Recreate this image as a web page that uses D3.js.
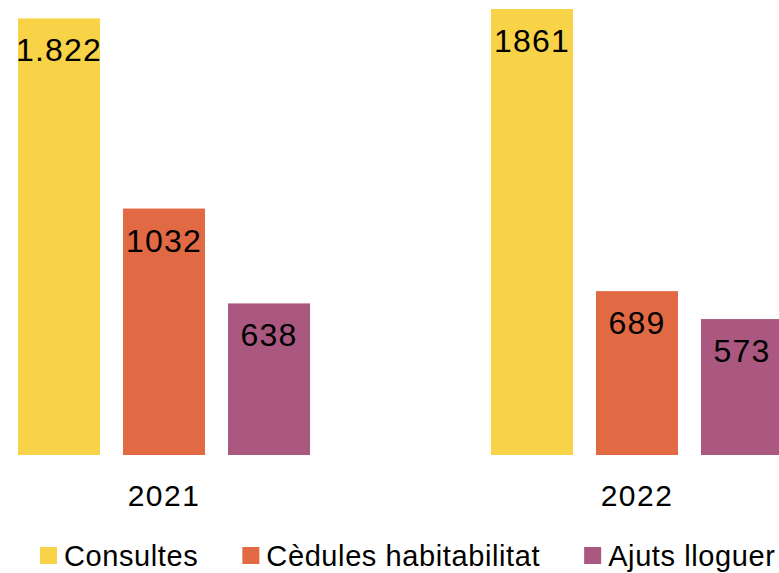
<!DOCTYPE html>
<html>
<head>
<meta charset="utf-8">
<script src="https://cdn.jsdelivr.net/npm/d3@7"></script>
<style>
  body { margin: 0; background: #fff; }
  text { font-family: "Liberation Sans", Arial, sans-serif; fill: #000; }
</style>
</head>
<body>
<svg id="drawing_region"></svg>
<script>
// dades
const years = ["2021", "2022"];
const series = ["Consultes", "Cèdules habitabilitat", "Ajuts lloguer"];
const consultes = [1822, 1861];
const cedules = [1032, 689];
const ajuts = [638, 573];
const valueLabels = [["1.822", "1032", "638"], ["1861", "689", "573"]];
const colors = ["#F8D348", "#E16943", "#AA5880"];

const data = years.map((y, i) => ({
  year: y,
  values: [consultes[i], cedules[i], ajuts[i]],
  labels: valueLabels[i]
}));

const width = 779, height = 573;
const baseline = 455;

const svg = d3.select('#drawing_region')
  .attr('width', width)
  .attr('height', height);

// escales
const x0 = d3.scaleBand().domain(years).range([-72.5, 873.5]).padding(0);
const x1 = d3.scaleBand().domain(series).range([0, x0.bandwidth()])
  .paddingInner(0.219).paddingOuter(0.862);
const y = d3.scaleLinear().domain([0, 1861]).range([457, 9]);

svg.append('clipPath').attr('id', 'plot')
  .append('rect').attr('x', 0).attr('y', 0).attr('width', width).attr('height', baseline);

const groups = svg.append('g').attr('clip-path', 'url(#plot)')
  .selectAll('g')
  .data(data)
  .join('g')
  .attr('transform', d => `translate(${x0(d.year)},0)`);

const cells = groups.selectAll('g')
  .data(d => series.map((s, j) => ({ s: s, j: j, v: d.values[j], label: d.labels[j] })))
  .join('g');

cells.append('rect')
  .attr('x', d => x1(d.s))
  .attr('y', d => y(d.v))
  .attr('width', x1.bandwidth())
  .attr('height', d => y(0) - y(d.v))
  .attr('fill', d => colors[d.j]);

cells.append('text')
  .attr('x', d => x1(d.s) + x1.bandwidth() / 2)
  .attr('y', d => y(d.v) + 43)
  .attr('text-anchor', 'middle')
  .style('font-size', '32px')
  .style('letter-spacing', '1.2px')
  .text(d => d.label);

// eix x (etiquetes d'any)
const xaxis = d3.axisBottom(x0).tickSize(0).tickPadding(0);
const xaxis_group = svg.append('g')
  .attr('transform', `translate(0, ${baseline})`)
  .call(xaxis);
xaxis_group.select('.domain').remove();
xaxis_group.selectAll('text')
  .attr('dy', null)
  .attr('y', 51)
  .style('font-family', '"Liberation Sans", Arial, sans-serif')
  .style('font-size', '30px')
  .style('letter-spacing', '1.5px')
  .attr('fill', '#000');

// llegenda
const legend = svg.append('g').attr('transform', 'translate(40, 0)');
let lx = 0;
series.forEach((s, j) => {
  const item = legend.append('g').attr('transform', `translate(${lx}, 0)`);
  item.append('rect')
    .attr('x', 0).attr('y', 547)
    .attr('width', 17).attr('height', 17)
    .attr('fill', colors[j]);
  const t = item.append('text')
    .attr('x', 24).attr('y', 566)
    .style('font-size', '29px')
    .style('letter-spacing', '0.6px')
    .text(s);
  lx += 24 + t.node().getComputedTextLength() + 44;
});
</script>
</body>
</html>
